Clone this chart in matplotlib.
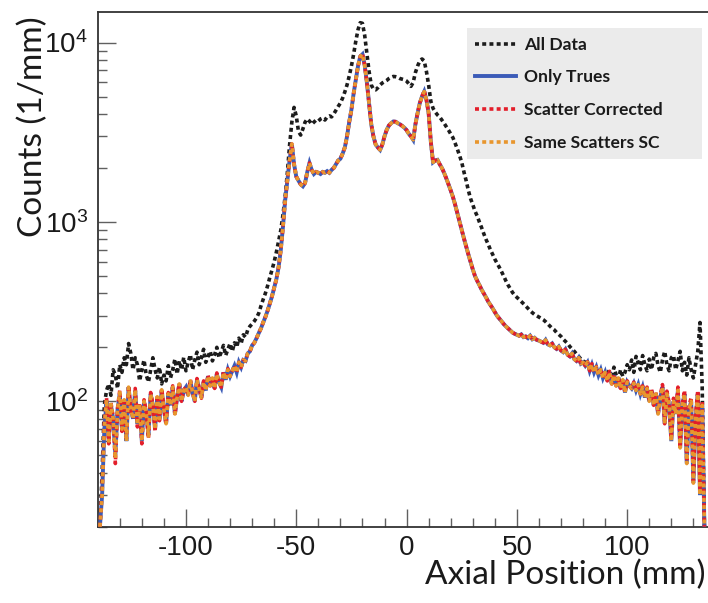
import numpy as np
import matplotlib
matplotlib.use("Agg")
import matplotlib.pyplot as plt
from matplotlib.ticker import MultipleLocator, LogLocator, LogFormatterMathtext, NullFormatter

plt.rcParams['font.family'] = ['Liberation Sans', 'DejaVu Sans']
plt.rcParams['axes.unicode_minus'] = False
plt.rcParams['mathtext.fontset'] = 'custom'
plt.rcParams['mathtext.rm'] = 'Liberation Sans'
plt.rcParams['mathtext.it'] = 'Liberation Sans:italic'

# axial position of each 1 mm bin (mm)
axial_mm = list(range(-139, 136))

all_data = [
    20, 40, 95, 115, 125, 108, 150, 140, 118, 160,
    145, 175, 160, 210, 185, 150, 175, 160, 130, 150,
    170, 140, 128, 150, 175, 150, 135, 155, 125, 140,
    130, 158, 135, 150, 172, 142, 168, 150, 176, 148,
    165, 182, 150, 170, 188, 160, 175, 195, 165, 178,
    190, 168, 182, 200, 175, 188, 205, 180, 195, 210,
    190, 212, 200, 225, 210, 235, 228, 250, 262, 270,
    280, 292, 310, 340, 370, 400, 440, 490, 540, 600,
    680, 780, 900, 1100, 1400, 1900, 2700, 3600, 4350, 3900,
    3200, 3050, 3300, 3600, 3750, 3650, 3500, 3600, 3700, 3650,
    3750, 3800, 3700, 3850, 3900, 3850, 4000, 4200, 4400, 4600,
    4900, 5300, 5800, 6500, 7400, 8600, 10200, 11800, 12900, 12800,
    11000, 8700, 6900, 5800, 5500, 5450, 5600, 5800, 5950, 6050,
    6150, 6300, 6400, 6470, 6450, 6400, 6300, 6250, 6200, 6100,
    5900, 5700, 6000, 6800, 7400, 7900, 8100, 7900, 6900, 5800,
    4700, 4300, 4100, 3950, 3850, 3700, 3550, 3400, 3250, 3100,
    2950, 2750, 2550, 2350, 2150, 1900, 1700, 1500, 1350, 1250,
    1150, 1080, 1000, 930, 860, 800, 750, 700, 660, 620,
    590, 560, 530, 500, 470, 445, 425, 405, 390, 380,
    370, 360, 350, 340, 330, 320, 312, 305, 300, 295,
    290, 285, 278, 270, 262, 255, 250, 242, 236, 230,
    222, 216, 210, 202, 196, 190, 184, 178, 172, 168,
    165, 160, 155, 152, 150, 148, 146, 144, 142, 140,
    142, 150, 135, 155, 140, 132, 150, 138, 145, 160,
    150, 170, 145, 178, 165, 150, 180, 160, 148, 172,
    150, 175, 185, 158, 145, 170, 190, 160, 148, 175,
    180, 150, 168, 190, 148, 165, 140, 175, 150, 135,
    160, 190, 275, 120, 20,
]

only_trues = [
    20, 30, 70, 100, 60, 95, 80, 50, 90, 110,
    70, 100, 60, 120, 90, 80, 115, 75, 95, 60,
    100, 85, 65, 110, 95, 70, 105, 80, 115, 90,
    75, 110, 95, 120, 85, 105, 125, 100, 115, 120,
    108, 130, 112, 100, 132, 118, 105, 128, 115, 138,
    122, 135, 118, 142, 128, 120, 145, 132, 150, 138,
    148, 158, 145, 165, 155, 170, 168, 185, 190, 205,
    212, 225, 240, 255, 275, 295, 320, 350, 385, 430,
    480, 560, 700, 950, 1330, 1720, 2220, 2720, 2100, 1790,
    1700, 1620, 1580, 1650, 1900, 2130, 1950, 1850, 1900, 1880,
    1850, 1900, 1880, 1920, 1880, 1950, 2000, 2100, 2200, 2250,
    2400, 2600, 2990, 3600, 4220, 5200, 6200, 7400, 8360, 8600,
    7500, 6000, 4600, 3500, 2990, 2700, 2600, 2520, 2700, 3000,
    3260, 3450, 3550, 3630, 3620, 3550, 3500, 3430, 3350, 3250,
    3100, 3000, 2870, 3500, 4040, 4600, 5000, 5330, 4800, 4040,
    2800, 2150, 2200, 2219, 2100, 2000, 1880, 1750, 1620, 1500,
    1380, 1250, 1120, 1000, 900, 810, 730, 660, 600, 545,
    500, 470, 445, 420, 400, 380, 360, 345, 330, 315,
    300, 290, 280, 270, 262, 255, 248, 242, 238, 235,
    232, 236, 228, 230, 225, 232, 222, 226, 220, 218,
    215, 212, 220, 208, 205, 210, 200, 196, 202, 192,
    188, 195, 182, 178, 185, 172, 168, 175, 162, 165,
    158, 165, 148, 160, 145, 155, 140, 150, 135, 145,
    130, 145, 125, 140, 122, 135, 118, 132, 112, 128,
    122, 118, 126, 115, 124, 110, 120, 105, 118, 100,
    115, 95, 110, 85, 105, 120, 75, 110, 95, 60,
    100, 85, 115, 55, 95, 110, 45, 90, 100, 35,
    80, 110, 30, 95, 20,
]

scatter_corrected = [
    20, 32, 75, 105, 58, 98, 82, 45, 92, 115,
    68, 104, 62, 122, 88, 82, 118, 72, 98, 58,
    102, 88, 62, 112, 96, 68, 108, 78, 118, 92,
    74, 112, 96, 122, 84, 106, 126, 100, 116, 120,
    108, 132, 112, 100, 134, 118, 104, 130, 115, 140,
    122, 136, 118, 144, 128, 120, 146, 132, 152, 138,
    148, 158, 145, 165, 155, 170, 168, 185, 190, 205,
    212, 225, 240, 255, 275, 295, 320, 350, 385, 430,
    480, 560, 700, 950, 1330, 1720, 2220, 2720, 2100, 1790,
    1700, 1620, 1580, 1650, 1900, 2130, 1950, 1850, 1900, 1880,
    1850, 1900, 1880, 1920, 1880, 1950, 2000, 2100, 2200, 2250,
    2400, 2600, 2990, 3600, 4220, 5200, 6200, 7400, 8360, 8700,
    7500, 6000, 4600, 3500, 2990, 2700, 2600, 2520, 2700, 3000,
    3260, 3450, 3550, 3630, 3620, 3550, 3500, 3430, 3350, 3250,
    3100, 3000, 2870, 3500, 4040, 4600, 5000, 5400, 4800, 4040,
    2800, 2150, 2200, 2219, 2100, 2000, 1880, 1750, 1620, 1500,
    1380, 1250, 1120, 1000, 900, 810, 730, 660, 600, 545,
    500, 470, 445, 420, 400, 380, 360, 345, 330, 315,
    300, 290, 280, 270, 262, 255, 248, 242, 238, 235,
    232, 236, 228, 230, 225, 232, 222, 226, 220, 218,
    215, 212, 220, 208, 205, 210, 200, 196, 202, 192,
    188, 195, 182, 178, 185, 172, 168, 175, 162, 165,
    158, 166, 148, 162, 145, 156, 140, 152, 135, 146,
    130, 147, 125, 142, 122, 137, 118, 134, 112, 130,
    124, 118, 128, 115, 126, 110, 122, 105, 120, 102,
    118, 95, 112, 85, 108, 124, 75, 114, 98, 62,
    104, 88, 120, 55, 98, 115, 46, 94, 105, 36,
    84, 115, 32, 100, 20,
]

same_scatters_sc = [
    20, 30, 72, 102, 60, 96, 80, 48, 90, 112,
    70, 102, 60, 120, 90, 80, 116, 74, 96, 60,
    100, 86, 64, 110, 95, 70, 106, 80, 116, 90,
    75, 110, 95, 120, 85, 105, 125, 100, 115, 120,
    108, 130, 112, 100, 132, 118, 105, 128, 115, 138,
    122, 135, 118, 142, 128, 120, 145, 132, 150, 138,
    148, 158, 145, 165, 155, 170, 168, 185, 190, 205,
    212, 225, 240, 255, 275, 295, 320, 350, 385, 430,
    480, 560, 700, 950, 1330, 1720, 2220, 2720, 2100, 1790,
    1700, 1620, 1580, 1650, 1900, 2130, 1950, 1850, 1900, 1880,
    1850, 1900, 1880, 1920, 1880, 1950, 2000, 2100, 2200, 2250,
    2400, 2600, 2990, 3600, 4220, 5200, 6200, 7400, 8360, 8600,
    7500, 6000, 4600, 3500, 2990, 2700, 2600, 2520, 2700, 3000,
    3260, 3450, 3550, 3630, 3620, 3550, 3500, 3430, 3350, 3250,
    3100, 3000, 2870, 3500, 4040, 4600, 5000, 5330, 4800, 4040,
    2800, 2150, 2200, 2219, 2100, 2000, 1880, 1750, 1620, 1500,
    1380, 1250, 1120, 1000, 900, 810, 730, 660, 600, 545,
    500, 470, 445, 420, 400, 380, 360, 345, 330, 315,
    300, 290, 280, 270, 262, 255, 248, 242, 238, 235,
    232, 236, 228, 230, 225, 232, 222, 226, 220, 218,
    215, 212, 220, 208, 205, 210, 200, 196, 202, 192,
    188, 195, 182, 178, 185, 172, 168, 175, 162, 165,
    158, 165, 148, 160, 145, 155, 140, 150, 135, 145,
    130, 145, 125, 140, 122, 135, 118, 132, 112, 128,
    122, 118, 126, 115, 124, 110, 120, 105, 118, 100,
    115, 95, 110, 85, 105, 120, 75, 110, 95, 60,
    100, 85, 115, 55, 95, 110, 45, 90, 100, 35,
    80, 110, 30, 95, 20,
]

series_labels = ["All Data", "Only Trues", "Scatter Corrected", "Same Scatters SC"]

fig = plt.figure(figsize=(7.08, 6.03), dpi=100)
ax = fig.add_axes([0.1380, 0.1265, 0.8725, 0.8536])

ax.plot(axial_mm, all_data, color="#1c1c1c", lw=2.6, dashes=(1.1, 0.9),
        label=series_labels[0], zorder=3)
ax.plot(axial_mm, only_trues, color="#3b5bb8", lw=2.8, solid_joinstyle="miter",
        label=series_labels[1], zorder=4)
ax.plot(axial_mm, scatter_corrected, color="#e31e2a", lw=2.6, dashes=(1.1, 0.9),
        label=series_labels[2], zorder=5)
ax.plot(axial_mm, same_scatters_sc, color="#e8962e", lw=2.6, dashes=(1.1, 0.9),
        label=series_labels[3], zorder=6)

ax.set_yscale("log")
ax.set_xlim(-140, 140)
ax.set_ylim(20, 14800)

ax.xaxis.set_major_locator(MultipleLocator(50))
ax.xaxis.set_minor_locator(MultipleLocator(10))
ax.yaxis.set_major_locator(LogLocator(base=10, numticks=10))
ax.yaxis.set_minor_locator(LogLocator(base=10, subs=np.arange(2, 10), numticks=20))
ax.yaxis.set_major_formatter(LogFormatterMathtext())
ax.yaxis.set_minor_formatter(NullFormatter())

ax.tick_params(which="both", direction="in", color="#606060", width=1.0,
               top=False, right=False, labelcolor="#1a1a1a")
ax.tick_params(which="major", length=13)
ax.tick_params(which="minor", length=6.5)
ax.tick_params(axis="x", which="major", pad=6, labelsize=20)
ax.tick_params(axis="y", which="major", pad=7, labelsize=20)

for side in ("left", "bottom", "top"):
    ax.spines[side].set_color("#333333")
    ax.spines[side].set_linewidth(1.3)
ax.spines["right"].set_visible(False)

fig.text(0.046, 0.79, "Counts (1/mm)", rotation=90, ha="center", va="center",
         fontsize=24, family="Lato", color="#1a1a1a")
fig.text(0.997, 0.046, "Axial Position (mm)", ha="right", va="center",
         fontsize=24, family="Lato", color="#1a1a1a")

leg = ax.legend(loc="upper left", bbox_to_anchor=(466.7 / 708, 1 - 156.7 / 603,
                (702 - 466.7) / 708, (156.7 - 28) / 603),
                bbox_transform=fig.transFigure, mode="expand",
                prop={"family": "Lato", "weight": "bold", "size": 12.6},
                frameon=True, fancybox=False, facecolor="#ebebeb", edgecolor="none",
                framealpha=1.0, handlelength=2.3, handletextpad=0.5,
                labelspacing=0.95, borderpad=0.5, borderaxespad=0.0)
for txt in leg.get_texts():
    txt.set_color("#1a1a1a")
leg.set_zorder(10)

fig.savefig("out.png", dpi=100)
